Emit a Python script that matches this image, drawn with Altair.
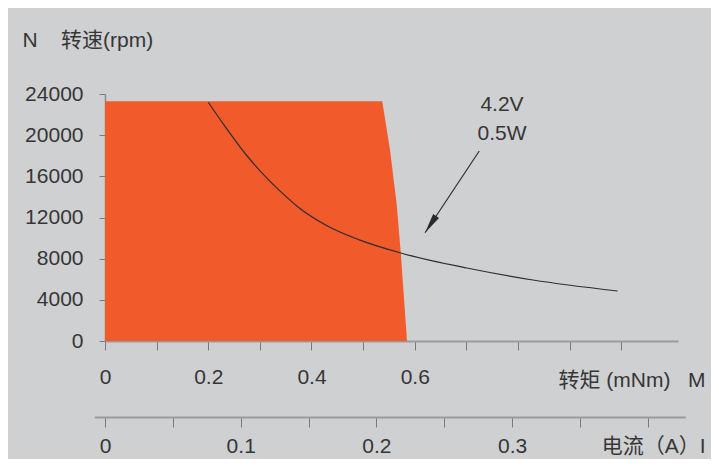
import altair as alt
import pandas as pd

# ---- axis ticks / labels ----
torque_ticks = [0, 0.1, 0.2, 0.3, 0.4, 0.5, 0.6, 0.7, 0.8, 0.9, 1.0]
torque_labels = ["0", "0.2", "0.4", "0.6"]
current_ticks = [0, 0.05, 0.1, 0.15, 0.2, 0.25, 0.3, 0.35, 0.4]
current_labels = ["0", "0.1", "0.2", "0.3"]
speed_ticks = [0, 2000, 4000, 6000, 8000, 10000, 12000, 14000, 16000,
               18000, 20000, 22000, 24000]
speed_labels = ["0", "4000", "8000", "12000", "16000", "20000", "24000"]

# ---- operating region (orange) boundary ----
region_speed = [0, 8550, 13300, 18600, 23300]
region_torque = [0.585, 0.573, 0.565, 0.552, 0.537]

# ---- 4.2V / 0.5W characteristic curve ----
curve_torque = [0.200, 0.229, 0.275, 0.314, 0.345, 0.372, 0.430, 0.494,
                0.573, 0.701, 0.829, 0.993]
curve_speed = [23200, 21100, 18000, 15800, 14300, 13100, 11200, 9800,
               8550, 7090, 5930, 4860]

# ---- annotation ----
arrow_torque = [0.725, 0.620]
arrow_speed = [18460, 10520]
note_lines = ["4.2V", "0.5W"]
note_torque = [0.769, 0.769]
note_speed = [22930, 20120]

FONT = "Liberation Sans, Noto Sans CJK SC, sans-serif"
TXT = "#363636"
NB = "\u00a0"

def expr_list(items):
    return "[" + ",".join("'" + s + "'" for s in items) + "]"

region_df = pd.DataFrame({"M": region_torque, "N": region_speed})
curve_df = pd.DataFrame({"M": curve_torque, "N": curve_speed})
arrow_df = pd.DataFrame({"M": [arrow_torque[0]], "N": [arrow_speed[0]],
                         "M2": [arrow_torque[1]], "N2": [arrow_speed[1]]})
head_df = pd.DataFrame({"M": [arrow_torque[1]], "N": [arrow_speed[1]]})
note_df = pd.DataFrame({"t": note_lines, "M": note_torque, "N": note_speed})
current_df = pd.DataFrame({"I": current_ticks})

x_enc = alt.X(
    "M:Q",
    scale=alt.Scale(domain=[0, 1.11], nice=False, zero=True),
    axis=alt.Axis(
        orient="bottom",
        values=torque_ticks,
        labelExpr="indexof(" + expr_list(torque_labels) + ", format(datum.value, '.1~f')) >= 0 ? format(datum.value, '.1~f') : ''",
        tickSize=9, tickColor="#7a7a7a", tickWidth=1,
        domainColor="#9a9a9a", domainWidth=2,
        labelFontSize=21, labelColor=TXT, labelFont=FONT,
        labelBaseline="middle", labelPadding=27, labelAlign="center",
        labelFlush=False, labelOverlap=False,
        title="转矩" + NB + "(mNm)" + NB + NB + NB + "M",
        titleFont=FONT, titleFontSize=21, titleFontWeight="normal",
        titleColor=TXT, titleAlign="right", titleBaseline="middle",
        titleX=600, titleY=39, titleAngle=0,
    ),
)
y_enc = alt.Y(
    "N:Q",
    scale=alt.Scale(domain=[0, 24000], nice=False),
    axis=alt.Axis(
        values=speed_ticks,
        labelExpr="indexof(" + expr_list(speed_labels) + ", format(datum.value, 'd')) >= 0 ? format(datum.value, 'd') : ''",
        tickSize=6, tickColor="#7a7a7a", tickWidth=1,
        domainColor="#8a8a8a", domainWidth=1.5,
        labelFontSize=21, labelColor=TXT, labelFont=FONT,
        labelPadding=16, labelFlush=False, labelOverlap=False,
        title="N" + NB * 4 + "转速(rpm)",
        titleFont=FONT, titleFontSize=21, titleFontWeight="normal",
        titleColor=TXT, titleAngle=0, titleAlign="left",
        titleBaseline="middle", titleX=-83, titleY=-54,
    ),
)

area = alt.Chart(region_df).mark_area(
    orient="horizontal", color="#f15a2b", opacity=1
).encode(x=x_enc, y=y_enc)

line = alt.Chart(curve_df).mark_line(
    color="#2e2e2e", strokeWidth=1.2, interpolate="monotone"
).encode(x="M:Q", y="N:Q")

arrow = alt.Chart(arrow_df).mark_rule(
    color="#2e2e2e", strokeWidth=1.2
).encode(x="M:Q", y="N:Q", x2="M2:Q", y2="N2:Q")

head = alt.Chart(head_df).mark_point(
    shape="M-0.7,-4L0.7,-4L0,0Z", filled=True, color="#2a2a2a",
    size=100, angle=33.5, opacity=1
).encode(x="M:Q", y="N:Q")

notes = alt.Chart(note_df).mark_text(
    font=FONT, fontSize=21, color=TXT, align="center", baseline="middle"
).encode(x="M:Q", y="N:Q", text="t:N")

main = alt.layer(area, line, arrow, head, notes)

current_axis = alt.Chart(current_df).mark_point(opacity=0).encode(
    x=alt.X(
        "I:Q",
        scale=alt.Scale(domain=[-0.00789, 0.4276], range=[-10.7, 580.3],
                        nice=False, zero=False),
        axis=alt.Axis(
            orient="bottom", offset=76,
            values=current_ticks,
            labelExpr="indexof(" + expr_list(current_labels) + ", format(datum.value, '.2~f')) >= 0 ? format(datum.value, '.2~f') : ''",
            tickSize=10, tickColor="#7a7a7a", tickWidth=1,
            domainColor="#9a9a9a", domainWidth=2,
            labelFontSize=21, labelColor=TXT, labelFont=FONT,
            labelBaseline="middle", labelPadding=19, labelAlign="center",
            labelFlush=False, labelOverlap=False,
            title="电流（A）I",
            titleFont=FONT, titleFontSize=21, titleFontWeight="normal",
            titleColor=TXT, titleAlign="right", titleBaseline="middle",
            titleX=600, titleY=29, titleAngle=0,
        ),
    )
)

chart = alt.layer(main, current_axis).resolve_scale(
    x="independent"
).resolve_axis(x="independent").properties(
    width=573, height=247,
    autosize=alt.AutoSizeParams(type="none"),
    padding={"left": 97, "top": 86, "right": 33, "bottom": 118},
    background="#cfd0d2",
).configure_view(stroke=None).configure_axis(grid=False)

chart.save("out.html", embed_options={"renderer": "svg", "actions": False})
